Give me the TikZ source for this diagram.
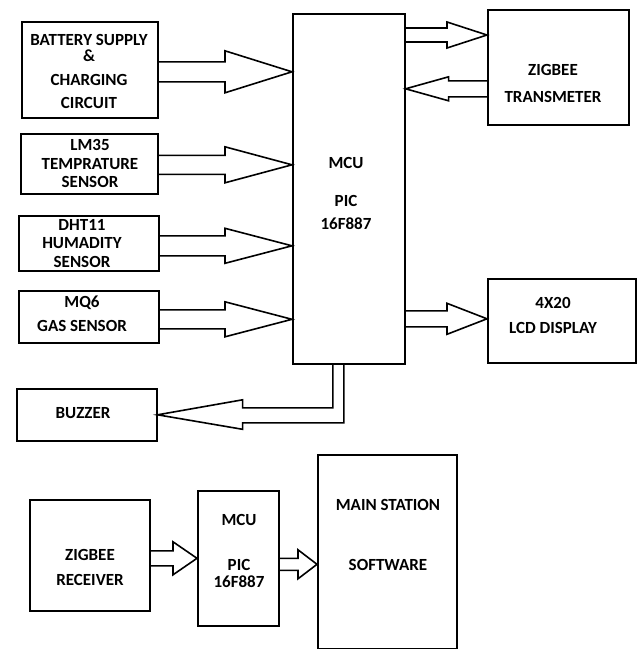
\documentclass[tikz,border=0pt]{standalone}
\usepackage{fontspec}
\setmainfont{Carlito}
\usetikzlibrary{calc}
\tikzset{
  blk/.style={draw=black, line width=1.6pt, inner sep=0pt, anchor=north west},
  txt/.style={align=center, inner sep=0pt, font=\fontsize{17}{19}\selectfont\bfseries, text=black},
  arrowline/.style={draw=black, line width=1.6pt, line join=miter},
}
% #1 start, #2 tip, #3 shaft half width, #4 head half width, #5 head length
\newcommand\hollowarrow[5]{%
  \path (#1) coordinate (aA);
  \path (#2) coordinate (aT);
  \path ($(aT)!#5!(aA)$) coordinate (aB);
  \draw[arrowline] ($(aA)!#3!90:(aT)$) -- ($(aB)!#3!-90:(aA)$) -- ($(aB)!#4!-90:(aA)$)
    -- (aT) -- ($(aB)!#4!90:(aA)$) -- ($(aB)!#3!90:(aA)$) -- ($(aA)!#3!-90:(aT)$);
}
\begin{document}
\begin{tikzpicture}[x=1pt, y=-1pt]
\useasboundingbox (0,0) rectangle (638,649);
% boxes
\node[blk, minimum width=136pt, minimum height=96pt] (bat) at (21,21) {};
\node[blk, minimum width=137pt, minimum height=60pt] (lm) at (20,133) {};
\node[blk, minimum width=140pt, minimum height=55pt] (dht) at (18,215) {};
\node[blk, minimum width=140pt, minimum height=52pt] (mq) at (18,290) {};
\node[blk, minimum width=140pt, minimum height=52pt] (buz) at (16,388) {};
\node[blk, minimum width=112pt, minimum height=350pt] (mcu) at (292,13) {};
\node[blk, minimum width=141pt, minimum height=115pt] (tx) at (487,9) {};
\node[blk, minimum width=148pt, minimum height=84pt] (lcd) at (487,278) {};
\node[blk, minimum width=120pt, minimum height=111pt] (rx) at (29,499) {};
\node[blk, minimum width=81pt, minimum height=135pt] (mcu2) at (197,490) {};
\node[blk, minimum width=139pt, minimum height=194pt] (main) at (317,454) {};
% texts
\node[txt] (tbat) at (89,71.5) {BATTERY SUPPLY\\[-2.5pt]\&\\[5pt]CHARGING\\[4pt]CIRCUIT};
\node[txt] (tlm) at (90,163.5) {LM35\\[-0.5pt]TEMPRATURE\\[-0.5pt]SENSOR};
\node[txt] (tdht) at (82,243.5) {DHT11\\[-0.5pt]HUMADITY\\[-0.5pt]SENSOR};
\node[txt] (tmq) at (82,314) {MQ6\\[5pt]GAS SENSOR};
\node[txt] (tbuz) at (83,413) {BUZZER};
\node[txt] (tmcu) at (346,193.5) {MCU\\[19pt]PIC\\[4pt]16F887};
\node[txt] (ttx) at (553,83.5) {ZIGBEE\\[8pt]TRANSMETER};
\node[txt] (tlcd) at (553,315.5) {4X20\\[6pt]LCD DISPLAY};
\node[txt] (trx) at (90,567.5) {ZIGBEE\\[6pt]RECEIVER};
\node[txt] (tmcu2) at (239,551) {MCU\\[26pt]PIC\\[-2pt]16F887};
\node[txt] (tmain) at (388,535) {MAIN STATION\\[41pt]SOFTWARE};
% block arrows
\hollowarrow{$(bat.east)+(0,2)$}{mcu.west |- aA}{10pt}{21pt}{67pt}
\hollowarrow{$(lm.east)+(0,1)$}{mcu.west |- aA}{9.5pt}{18pt}{67pt}
\hollowarrow{$(dht.east)+(0,2.5)$}{mcu.west |- aA}{10pt}{17.5pt}{67pt}
\hollowarrow{$(mq.east)+(0,2.5)$}{mcu.west |- aA}{9.5pt}{17.5pt}{67pt}
\hollowarrow{$(mcu.north east)+(0,22)$}{tx.west |- aA}{7pt}{13pt}{40pt}
\hollowarrow{$(tx.west)+(0,21.5)$}{mcu.east |- aA}{8pt}{12pt}{43pt}
\hollowarrow{$(mcu.east |- lcd.west)+(0,-2)$}{lcd.west |- aA}{8pt}{15.5pt}{40pt}
\hollowarrow{$(rx.east)+(0,3)$}{mcu2.west |- aA}{7.5pt}{16.5pt}{24pt}
\hollowarrow{$(mcu2.east)+(0,6)$}{main.west |- aA}{6pt}{14.5pt}{19pt}
% bent arrow to buzzer
\draw[arrowline] ($(mcu.south)+(-5,0)$) |- ($(buz.east)+(85,8)$) -- ($(buz.east)+(85,14.5)$)
  -- (buz.east) -- ($(buz.east)+(85,-15)$) -- ($(buz.east)+(85,-7)$) -| ($(mcu.south)+(-16,0)$);
\end{tikzpicture}
\end{document}
